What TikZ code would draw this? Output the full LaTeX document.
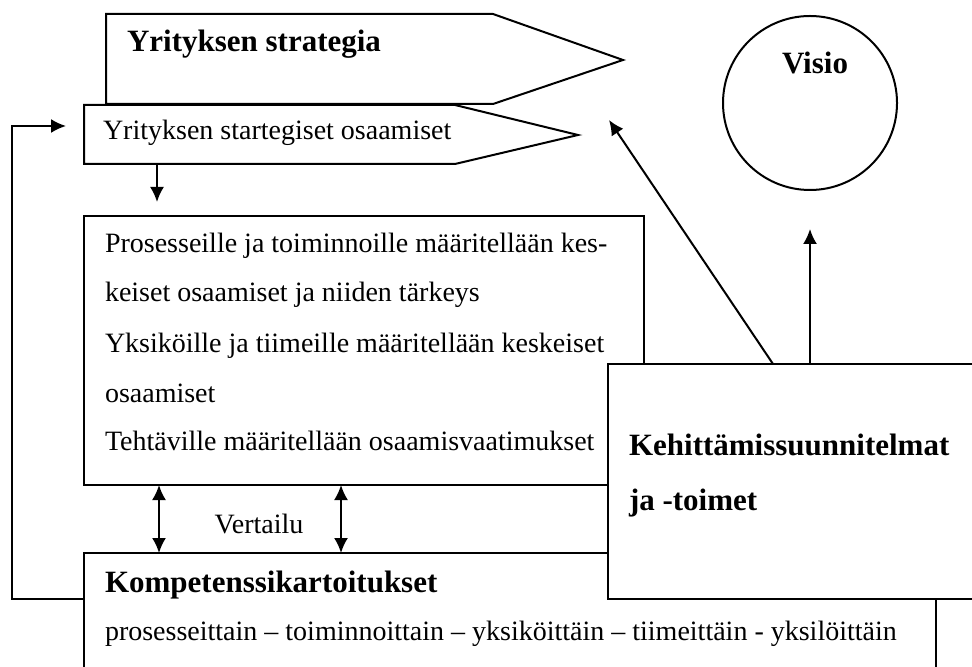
\documentclass[tikz,border=0pt]{standalone}
\usepackage{fontspec}
\setmainfont{Liberation Serif}
\usetikzlibrary{arrows.meta,calc}

\begin{document}
\begin{tikzpicture}[x=0.5pt,y=-0.5pt,>={Latex[length=7.5pt,width=7pt]},line width=1pt,
  every node/.style={inner sep=0pt,outer sep=0pt},
  box/.style={draw,fill=white,anchor=north west},
  txt/.style={anchor=base west,font=\fontsize{14}{16}\selectfont},
  head/.style={anchor=base west,font=\fontsize{15.5}{18}\selectfont\bfseries}]
\useasboundingbox (0,0) rectangle (972,667);
\clip (0,0) rectangle (972,667);
% strategy and strategic competences
\draw[fill=white] (106,14) -- (493,14) -- (623,60) -- (493,104) -- (106,104) -- cycle;
\node[head] (strat) at (127,52) {Yrityksen strategia};
\draw[fill=white] (84,105) -- (455,105) -- (578,135) -- (455,164) -- (84,164) coordinate (ossw) -- cycle;
\node[txt] (osaam) at (103,140) {Yrityksen startegiset osaamiset};
% boxes
\node[box,minimum width=280pt,minimum height=134.5pt] (tasks) at (84,216) {};
\node[box,minimum width=426pt,minimum height=68.5pt] (komp) at (84,553) {};
\node[box,minimum width=188.5pt,minimum height=117.5pt] (kehit) at (608,364) {};
\node[draw,circle,minimum size=87pt] (visio) at (810,103) {};
% texts
\node[txt] (t1) at (105,253) {Prosesseille ja toiminnoille määritellään kes-};
\node[txt] (t2) at (105,302) {keiset osaamiset ja niiden tärkeys};
\node[txt] (t3) at (105,352) {Yksiköille ja tiimeille määritellään keskeiset};
\node[txt] (t4) at (105,402) {osaamiset};
\node[txt] (t5) at (105,450) {Tehtäville määritellään osaamisvaatimukset};
\node[head] (kt) at (105,592) {Kompetenssikartoitukset};
\node[txt] (kl) at (105,640) {prosesseittain – toiminnoittain – yksiköittäin – tiimeittäin - yksilöittäin};
\node[head] (k1) at (629,455) {Kehittämissuunnitelmat};
\node[head] (k2) at (629,510) {ja -toimet};
\node[head,anchor=base] (vt) at (815,74) {Visio};
\node[txt,anchor=base] (vert) at (259,533) {Vertailu};
% connectors
\coordinate (dn) at (157,202);
\coordinate (fbend) at (66,126);
\coordinate (strtip) at (609,120);
\draw[->] ($(ossw)+(73,0)$) -- (dn);
\draw[<->] ($(tasks.south west)+(75,0)$) -- ($(komp.north west)+(75,0)$);
\draw[<->] ($(tasks.south west)+(257,0)$) -- ($(komp.north west)+(257,0)$);
\draw[->] ($(komp.north west)+(0,46)$) -- ++(-72,0) |- (fbend);
\draw[->] ($(kehit.north west)+(165,0)$) -- (strtip);
\draw[->] ($(kehit.north west)+(202,0)$) -- ($(visio.south)+(0,39)$);
\end{tikzpicture}
\end{document}
